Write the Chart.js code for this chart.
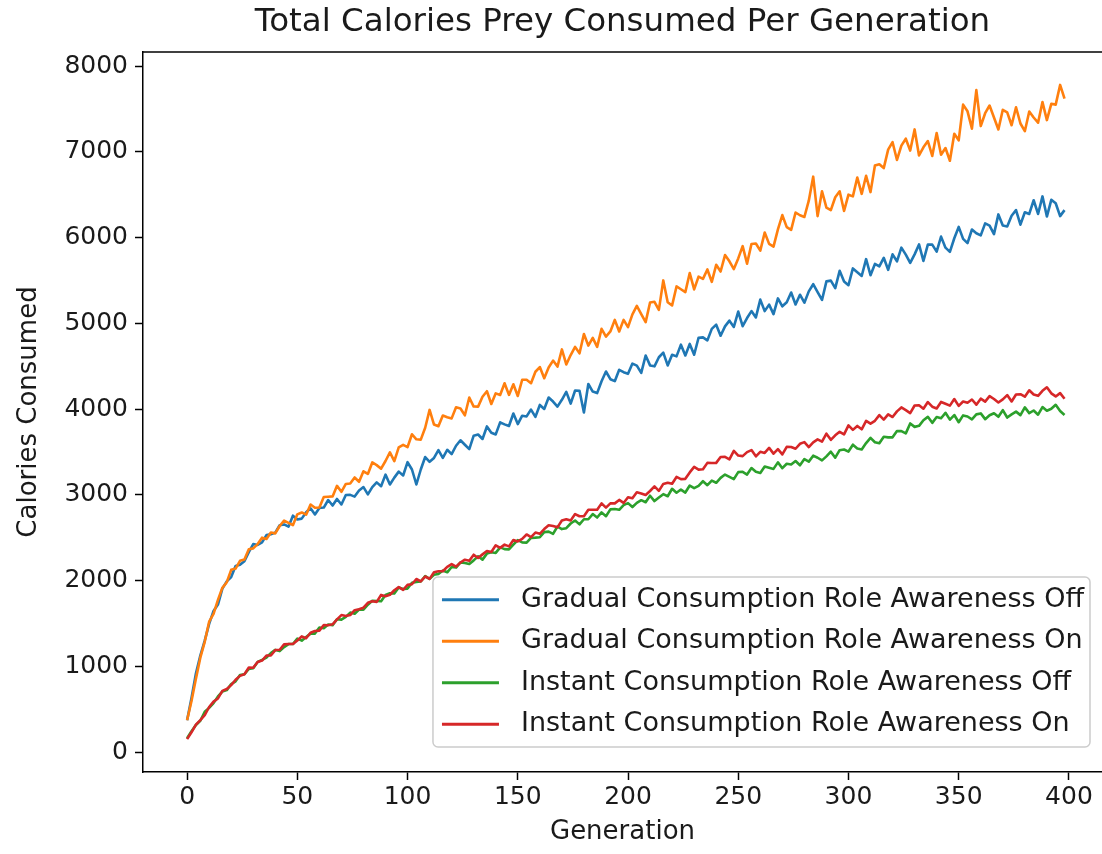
<!DOCTYPE html>
<html>
<head>
<meta charset="utf-8">
<script src="https://cdn.jsdelivr.net/npm/chart.js@4.4.0/dist/chart.umd.min.js"></script>
<style>
  body { margin: 0; background: #fff; }
</style>
</head>
<body>
<canvas id="myChart" width="1102" height="854"></canvas>
<script>
// one value every 2 generations (0, 2, 4 ... 398)
const GEN_STEP = 2;

const chartTitle = "Total Calories Prey Consumed Per Generation";
const xTitle = "Generation";
const yTitle = "Calories Consumed";

const seriesLabels = [
    "Gradual Consumption Role Awareness Off",
    "Gradual Consumption Role Awareness On",
    "Instant Consumption Role Awareness Off",
    "Instant Consumption Role Awareness On"
];
const seriesColors = ["#1f77b4", "#ff7f0e", "#2ca02c", "#d62728"];

const xTickValues = [0, 50, 100, 150, 200, 250, 300, 350, 400];
const yTickValues = [0, 1000, 2000, 3000, 4000, 5000, 6000, 7000, 8000];

const gradualOff = [
    370, 630, 915, 1125, 1300, 1495, 1645, 1720, 1905, 1990, 2040, 2170, 2185, 2225, 2330, 2425, 2415, 2445, 2530, 2540,
    2559, 2645, 2654, 2628, 2756, 2711, 2722, 2796, 2842, 2771, 2847, 2851, 2939, 2875, 2951, 2887, 2998, 2999, 2979, 3050,
    3090, 3005, 3090, 3145, 3100, 3235, 3120, 3200, 3270, 3225, 3380, 3295, 3120, 3295, 3440, 3385, 3430, 3520, 3430, 3525,
    3475, 3572, 3636, 3584, 3532, 3689, 3703, 3651, 3797, 3723, 3704, 3845, 3821, 3802, 3948, 3825, 3922, 3914, 3994, 3909,
    4048, 4001, 4134, 4087, 4028, 4108, 4200, 4064, 4216, 4214, 3960, 4292, 4204, 4186, 4324, 4438, 4348, 4325, 4458, 4430,
    4411, 4530, 4506, 4422, 4624, 4509, 4498, 4604, 4658, 4509, 4633, 4614, 4751, 4625, 4759, 4633, 4832, 4836, 4801, 4935,
    4984, 4855, 4964, 5031, 4958, 5137, 4966, 5061, 5142, 5069, 5276, 5142, 5218, 5107, 5290, 5198, 5246, 5359, 5220, 5333,
    5240, 5372, 5456, 5364, 5272, 5489, 5498, 5411, 5612, 5488, 5444, 5640, 5596, 5552, 5748, 5560, 5692, 5664, 5764, 5624,
    5804, 5723, 5882, 5801, 5704, 5804, 5920, 5727, 5918, 5917, 5836, 6011, 5882, 5833, 5992, 6124, 5984, 5935, 6094, 6050,
    6025, 6165, 6140, 6040, 6270, 6140, 6130, 6255, 6320, 6150, 6295, 6275, 6435, 6275, 6480, 6245, 6440, 6400, 6250, 6320
];

const gradualOn = [
    370, 595, 855, 1100, 1285, 1520, 1610, 1775, 1915, 1980, 2125, 2140, 2230, 2245, 2365, 2375, 2425, 2500, 2485, 2560,
    2550, 2636, 2698, 2672, 2646, 2772, 2794, 2768, 2886, 2849, 2852, 2975, 2978, 2981, 3104, 3035, 3126, 3132, 3202, 3152,
    3274, 3243, 3377, 3346, 3304, 3394, 3495, 3392, 3553, 3582, 3556, 3706, 3647, 3643, 3782, 3990, 3819, 3800, 3924, 3905,
    3891, 4020, 4006, 3927, 4134, 4029, 4028, 4144, 4208, 4059, 4183, 4164, 4301, 4165, 4289, 4153, 4342, 4341, 4301, 4435,
    4490, 4360, 4485, 4565, 4495, 4695, 4520, 4630, 4725, 4650, 4875, 4740, 4830, 4725, 4935, 4845, 4905, 5040, 4905, 5040,
    4955, 5104, 5202, 5108, 5014, 5243, 5251, 5157, 5500, 5246, 5208, 5430, 5397, 5364, 5586, 5395, 5544, 5518, 5628, 5483,
    5682, 5604, 5796, 5723, 5632, 5757, 5900, 5696, 5924, 5931, 5848, 6058, 5926, 5894, 6096, 6262, 6122, 6090, 6292, 6260,
    6240, 6430, 6710, 6250, 6540, 6350, 6320, 6470, 6540, 6310, 6500, 6480, 6700, 6510, 6720, 6530, 6840, 6855, 6810, 7025,
    7112, 6905, 7072, 7153, 7014, 7261, 6958, 7053, 7126, 6952, 7218, 6966, 7044, 6896, 7210, 7134, 7550, 7472, 7270, 7720,
    7300, 7450, 7540, 7400, 7260, 7490, 7460, 7310, 7520, 7330, 7240, 7470, 7400, 7340, 7580, 7370, 7560, 7550, 7780, 7620
];

const instantOff = [
    160, 243, 315, 365, 470, 515, 570, 648, 705, 722, 793, 825, 898, 907, 968, 977, 1050, 1075, 1102, 1153,
    1191, 1177, 1224, 1259, 1259, 1323, 1299, 1341, 1381, 1381, 1452, 1443, 1487, 1480, 1548, 1544, 1576, 1626, 1612, 1662,
    1660, 1718, 1764, 1761, 1758, 1831, 1852, 1849, 1918, 1902, 1906, 1975, 1984, 1988, 2052, 2020, 2068, 2076, 2116, 2096,
    2158, 2151, 2212, 2205, 2193, 2235, 2283, 2244, 2314, 2329, 2322, 2387, 2366, 2363, 2419, 2471, 2445, 2442, 2498, 2500,
    2505, 2565, 2570, 2545, 2630, 2600, 2610, 2665, 2700, 2655, 2715, 2715, 2775, 2735, 2795, 2750, 2830, 2835, 2825, 2880,
    2903, 2857, 2906, 2937, 2913, 2989, 2927, 2969, 3007, 2983, 3070, 3024, 3061, 3026, 3108, 3078, 3104, 3158, 3112, 3166,
    3140, 3197, 3236, 3209, 3182, 3264, 3268, 3236, 3312, 3268, 3254, 3330, 3316, 3302, 3378, 3310, 3362, 3354, 3394, 3344,
    3416, 3387, 3456, 3432, 3401, 3448, 3503, 3433, 3520, 3528, 3504, 3584, 3540, 3529, 3603, 3664, 3613, 3602, 3676, 3670,
    3670, 3743, 3743, 3716, 3832, 3792, 3804, 3870, 3909, 3839, 3907, 3892, 3956, 3877, 3930, 3846, 3926, 3913, 3880, 3938,
    3949, 3882, 3927, 3951, 3910, 3987, 3901, 3938, 3970, 3929, 4019, 3952, 3983, 3934, 4023, 3980, 4003, 4049, 3977, 3930
];

const instantOn = [
    150, 230, 320, 372, 430, 525, 588, 625, 713, 735, 780, 843, 888, 907, 985, 982, 1050, 1067, 1125, 1125,
    1189, 1193, 1255, 1259, 1259, 1301, 1348, 1327, 1391, 1412, 1416, 1481, 1479, 1490, 1547, 1597, 1586, 1597, 1654, 1665,
    1683, 1740, 1758, 1751, 1832, 1817, 1834, 1887, 1924, 1892, 1949, 1957, 2018, 1990, 2047, 2019, 2096, 2108, 2108, 2160,
    2192, 2162, 2210, 2243, 2231, 2301, 2263, 2305, 2344, 2332, 2411, 2381, 2419, 2398, 2473, 2456, 2485, 2537, 2507, 2559,
    2545, 2600, 2645, 2635, 2620, 2700, 2715, 2700, 2775, 2750, 2750, 2825, 2825, 2825, 2900, 2850, 2900, 2900, 2940, 2905,
    2972, 2959, 3029, 3016, 2997, 3044, 3098, 3046, 3127, 3141, 3128, 3208, 3183, 3186, 3261, 3325, 3294, 3297, 3372, 3370,
    3372, 3440, 3442, 3414, 3513, 3458, 3451, 3498, 3521, 3448, 3501, 3488, 3547, 3480, 3533, 3471, 3559, 3557, 3537, 3595,
    3614, 3557, 3612, 3646, 3620, 3712, 3641, 3693, 3735, 3704, 3809, 3757, 3803, 3764, 3863, 3830, 3863, 3929, 3877, 3938,
    3907, 3973, 4019, 3988, 3953, 4041, 4045, 4004, 4081, 4027, 4006, 4083, 4062, 4040, 4117, 4037, 4088, 4073, 4111, 4051,
    4121, 4087, 4151, 4117, 4076, 4113, 4163, 4088, 4170, 4173, 4144, 4219, 4170, 4154, 4213, 4254, 4183, 4147, 4186, 4120
];

const allSeries = [gradualOff, gradualOn, instantOff, instantOn];

const FONT = '"DejaVu Sans", sans-serif';
const TEXT_COLOR = "#1a1a1a";

let toPoints = (values) => values.map((v, i) => ({x: i * GEN_STEP, y: v}));

// title centred over the plot area, like matplotlib
let titlePlugin = {
    id: "plotTitle",
    afterDraw(chart) {
        let ctx = chart.ctx;
        let area = chart.chartArea;
        ctx.save();
        ctx.font = "32.5px " + FONT;
        ctx.fillStyle = TEXT_COLOR;
        ctx.textAlign = "center";
        ctx.textBaseline = "middle";
        ctx.fillText(chartTitle, (area.left + area.right) / 2, area.top - 29);
        ctx.restore();
    }
};

// top spine
let framePlugin = {
    id: "frame",
    afterDraw(chart) {
        let ctx = chart.ctx;
        let area = chart.chartArea;
        ctx.save();
        ctx.strokeStyle = "#000";
        ctx.lineWidth = 1.5;
        ctx.beginPath();
        ctx.moveTo(area.left, area.top);
        ctx.lineTo(area.right, area.top);
        ctx.stroke();
        ctx.restore();
    }
};

// legend box in the lower right corner of the axes
let legendPlugin = {
    id: "legendBox",
    afterDatasetsDraw(chart) {
        let ctx = chart.ctx;
        let area = chart.chartArea;
        let sets = chart.data.datasets;
        ctx.save();
        ctx.font = "27px " + FONT;
        let maxW = Math.max(...sets.map(d => ctx.measureText(d.label).width));
        let rowH = 41.5;
        let w = 88 + maxW + 6;
        let h = rowH * sets.length + 4;
        let right = area.right - 12;
        let bottom = area.bottom - 25;
        let left = right - w;
        let top = bottom - h;

        ctx.beginPath();
        ctx.roundRect(left, top, w, h, 5);
        ctx.fillStyle = "rgba(255,255,255,0.8)";
        ctx.fill();
        ctx.strokeStyle = "#cccccc";
        ctx.lineWidth = 1.5;
        ctx.stroke();

        sets.forEach((d, i) => {
            let cy = top + 2 + rowH * (i + 0.5);
            ctx.strokeStyle = d.borderColor;
            ctx.lineWidth = 2.8;
            ctx.beginPath();
            ctx.moveTo(left + 9, cy);
            ctx.lineTo(left + 66, cy);
            ctx.stroke();
            ctx.fillStyle = TEXT_COLOR;
            ctx.textAlign = "left";
            ctx.textBaseline = "middle";
            ctx.fillText(d.label, left + 88, cy);
        });
        ctx.restore();
    }
};

let myChart = new Chart("myChart", {
    type: "line",
    data: {
        datasets: allSeries.map((values, i) => ({
            label: seriesLabels[i],
            data: toPoints(values),
            borderColor: seriesColors[i],
            backgroundColor: seriesColors[i],
            borderWidth: 2.6,
            borderJoinStyle: "round",
            pointRadius: 0,
            tension: 0,
            fill: false,
            order: allSeries.length - i // later series drawn on top
        }))
    },
    options: {
        responsive: false,
        animation: false,
        devicePixelRatio: 1,
        layout: {
            padding: {top: 52, left: 0, right: 0, bottom: 0}
        },
        plugins: {
            legend: {display: false},
            tooltip: {enabled: false},
            title: {display: false}
        },
        scales: {
            x: {
                type: "linear",
                min: -20,
                max: 415,
                afterBuildTicks: (scale) => {
                    scale.ticks = xTickValues.map(v => ({value: v}));
                },
                afterFit: (scale) => {
                    scale.height = 82;
                },
                border: {display: true, color: "#000", width: 1.5},
                grid: {
                    drawOnChartArea: false,
                    drawTicks: true,
                    tickLength: 8,
                    tickColor: "#000",
                    tickWidth: 1.5
                },
                ticks: {
                    font: {family: FONT, size: 25},
                    color: TEXT_COLOR,
                    padding: 2,
                    maxRotation: 0,
                    callback: (v) => String(v)
                },
                title: {
                    display: true,
                    text: xTitle,
                    font: {family: FONT, size: 26},
                    color: TEXT_COLOR,
                    padding: {top: 0, bottom: 6}
                }
            },
            y: {
                type: "linear",
                min: -233,
                max: 8164,
                afterBuildTicks: (scale) => {
                    scale.ticks = yTickValues.map(v => ({value: v}));
                },
                afterFit: (scale) => {
                    scale.width = 143;
                },
                border: {display: true, color: "#000", width: 1.5},
                grid: {
                    drawOnChartArea: false,
                    drawTicks: true,
                    tickLength: 8,
                    tickColor: "#000",
                    tickWidth: 1.5
                },
                ticks: {
                    font: {family: FONT, size: 25},
                    color: TEXT_COLOR,
                    padding: 7,
                    callback: (v) => String(v)
                },
                title: {
                    display: true,
                    text: yTitle,
                    font: {family: FONT, size: 26},
                    color: TEXT_COLOR,
                    padding: {top: 14, bottom: 0}
                }
            }
        }
    },
    plugins: [titlePlugin, framePlugin, legendPlugin]
});
</script>
</body>
</html>
